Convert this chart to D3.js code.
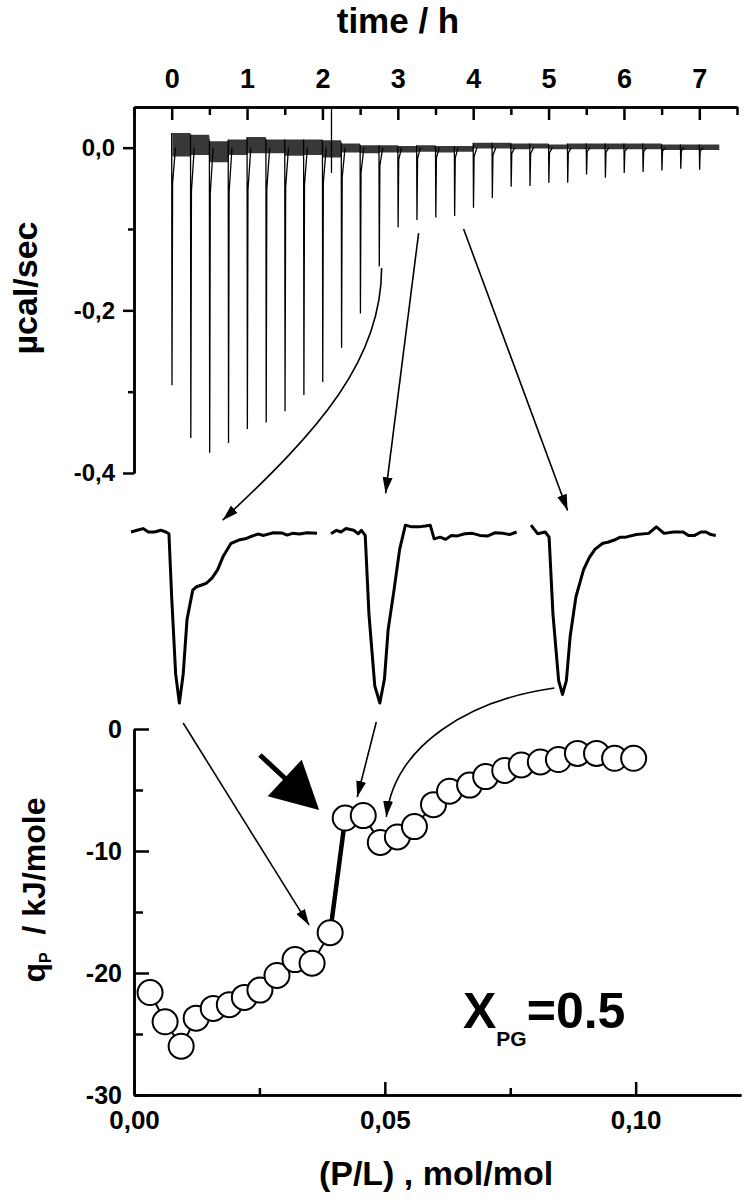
<!DOCTYPE html>
<html>
<head>
<meta charset="utf-8">
<script src="https://cdn.jsdelivr.net/npm/d3@7"></script>
<style>
  body { margin: 0; background: #fff; }
  svg { display: block; font-family: "Liberation Sans", Arial, Helvetica, sans-serif; font-weight: bold; }
</style>
</head>
<body>
<svg id="chart" width="744" height="1200"></svg>
<script>
// ITC thermogram: injection times (h) and peak minima (µcal/sec)
const injTime = [0, 0.25, 0.5, 0.75, 1, 1.25, 1.5, 1.75, 2, 2.25, 2.5, 2.75, 3, 3.25, 3.5,
  3.75, 4, 4.25, 4.5, 4.75, 5, 5.25, 5.5, 5.75, 6, 6.25, 6.5, 6.75, 7];
const injPeak = [-0.292, -0.357, -0.375, -0.363, -0.346, -0.338, -0.324, -0.304, -0.288, -0.246,
  -0.204, -0.146, -0.098, -0.089, -0.086, -0.084, -0.074, -0.062, -0.048, -0.047, -0.043, -0.043,
  -0.033, -0.037, -0.031, -0.030, -0.028, -0.026, -0.027];
// baseline noise envelope between injections (µcal/sec)
const noiseHi = [0.018, 0.016, 0.008, 0.010, 0.013, 0.010, 0.010, 0.010, 0.009, 0.005, 0.003, 0.003,
  0.002, 0.003, 0.002, 0.002, 0.006, 0.006, 0.005, 0.005, 0.004, 0.005, 0.005, 0.005, 0.005, 0.005,
  0.004, 0.004, 0.004];
const noiseLo = [-0.011, -0.009, -0.018, -0.009, -0.007, -0.007, -0.010, -0.009, -0.012, -0.006,
  -0.007, -0.006, -0.006, -0.005, -0.006, -0.005, -0.001, -0.001, -0.002, -0.001, -0.002, -0.002,
  -0.002, -0.002, -0.002, -0.002, -0.003, -0.003, -0.003];
const traceEnd = 7.27;
const glitch = { t: 2.12, hi: 0.05, lo: -0.031 };

const timeTicks = [0, 1, 2, 3, 4, 5, 6, 7];
const timeMinor = [-0.5, 0.5, 1.5, 2.5, 3.5, 4.5, 5.5, 6.5, 7.5];
const powerTicks = [0, -0.2, -0.4];
const powerMinor = [-0.1, -0.3];

// enlarged single peaks: [minutes after start of window, signal relative to peak depth]
const insetInj = [12, 14, 16];
const insetA = [[0, 0], [0.5, 0.01], [0.97, 0.02], [1.4, 0.0], [1.9, 0.0], [2.4, 0.01], [2.82, 0],
  [3.06, -0.01], [3.28, -0.38], [3.6, -0.83], [3.9, -1.0], [4.21, -0.83], [4.52, -0.51],
  [4.98, -0.34], [5.29, -0.32], [5.7, -0.31], [6.06, -0.30], [6.53, -0.27], [6.99, -0.22],
  [7.45, -0.14], [8.07, -0.066], [8.69, -0.047], [9.2, -0.04], [9.62, -0.028], [10.24, -0.012],
  [10.7, -0.02], [11.48, -0.004], [12.2, -0.006], [12.6, -0.018], [13.01, -0.008], [13.6, -0.012],
  [14.2, -0.004], [15.0, -0.008]];
const insetB = [[0, -0.01], [0.44, 0.01], [0.8, 0.0], [1.21, 0.02], [1.83, 0.01], [2.2, -0.01],
  [2.45, 0.01], [2.76, -0.02], [3.06, -0.48], [3.53, -0.9], [3.94, -1.0], [4.31, -0.86],
  [4.61, -0.57], [5.08, -0.34], [5.54, -0.1], [6.0, 0.04], [6.5, 0.03], [7.09, 0.03], [7.6, 0.035],
  [8.0, 0.04], [8.32, -0.04], [8.8, -0.03], [9.25, -0.043], [9.7, -0.02], [10.18, -0.023],
  [10.8, -0.01], [11.41, -0.008], [12.0, -0.02], [12.65, -0.023], [13.2, -0.005],
  [13.88, -0.008], [14.4, -0.015], [14.97, 0.0]];
const insetC = [[0, 0.04], [0.53, -0.01], [1.15, 0.0], [1.46, -0.03], [1.77, -0.48],
  [2.23, -0.87], [2.54, -0.95], [2.85, -0.87], [3.16, -0.61], [3.62, -0.38], [4.24, -0.22],
  [4.7, -0.15], [5.17, -0.1], [5.79, -0.066], [6.2, -0.06], [6.72, -0.047], [7.2, -0.03],
  [7.64, -0.03], [8.5, -0.015], [9.49, -0.008], [10.11, 0.03], [10.73, -0.008], [11.5, 0.0],
  [12.27, 0.0], [12.7, -0.02], [13.2, -0.02], [13.7, 0.0], [14.12, 0.0], [14.5, -0.015],
  [14.9, -0.02]];

// titration heats
const plRatio = [0.0032, 0.0062, 0.0094, 0.0124, 0.0158, 0.0190, 0.0220, 0.0251, 0.0285, 0.0321,
  0.0355, 0.0391, 0.0421, 0.0457, 0.0491, 0.0525, 0.0559, 0.0597, 0.0629, 0.0669, 0.0701, 0.0739,
  0.0772, 0.0810, 0.0846, 0.0884, 0.0922, 0.0958, 0.0996];
const qP = [-21.6, -24.0, -26.0, -23.7, -22.9, -22.6, -22.0, -21.4, -20.2, -18.9, -19.2, -16.7,
  -7.3, -7.1, -9.3, -8.85, -8.0, -6.2, -5.1, -4.6, -3.9, -3.4, -2.95, -2.7, -2.5, -2.0, -2.0, -2.4, -2.4];
const jumpAt = 11; // segment drawn heavy: point 12 -> 13

const ratioTicks = [0, 0.05, 0.10];
const ratioMinor = [0.025, 0.075];
const heatTicks = [0, -10, -20, -30];
const heatMinor = [-5, -15, -25];

// arrows (in the coordinates of the panel they sit in)
const topArrows = [
  { from: [2.785, -0.148], c1: [2.785, -0.261], c2: [1.963, -0.347], to: [0.676, -0.458] },
  { from: [3.276, -0.105], to: [2.838, -0.425] },
  { from: [3.873, -0.100], to: [5.252, -0.446] }
];
const bottomArrows = [
  { from: [0.0098, 0.49], to: [0.0349, -16.07] },
  { from: [0.0483, 0.57], to: [0.0445, -5.57] },
  { from: [0.0838, 3.36], c1: [0.0669, 2.38], c2: [0.0519, -1.31], to: [0.0503, -7.21] }
];
const bigArrow = { from: [0.0251, -2.13], to: [0.0369, -6.64] };

const loc = d3.formatLocale({ decimal: ",", thousands: ".", grouping: [3], currency: ["", ""], minus: "-" });

const svg = d3.select("#chart");
const defs = svg.append("defs");
defs.append("marker")
    .attr("id", "head")
    .attr("viewBox", "0 0 16 10")
    .attr("refX", 16).attr("refY", 5)
    .attr("markerWidth", 16).attr("markerHeight", 10)
    .attr("markerUnits", "userSpaceOnUse")
    .attr("orient", "auto")
  .append("path")
    .attr("d", "M0,0L16,5L0,10z")
    .attr("fill", "#000");

function styleAxis(g, size) {
  g.attr("font-family", null).attr("font-size", null);
  g.selectAll("path.domain, line").attr("stroke", "#000").attr("stroke-width", 2.5);
  g.selectAll("text").attr("fill", "#000").style("font-size", size + "px");
}

// ---------- top panel: raw heat flow ----------
const x = d3.scaleLinear().domain([-0.5, 7.5]).range([134, 737]);
const y = d3.scaleLinear().domain([-0.4, 0.05]).range([473, 107]);

svg.append("g")
    .attr("transform", `translate(0,${y(0.05)})`)
    .call(d3.axisTop(x).tickValues(timeMinor).tickSize(-8).tickSizeOuter(0).tickFormat(""))
    .call(g => styleAxis(g, 27));
svg.append("g")
    .attr("transform", `translate(0,${y(0.05)})`)
    .call(d3.axisTop(x).tickValues(timeTicks).tickSize(-13).tickSizeOuter(0).tickPadding(19).tickFormat(d3.format("d")))
    .call(g => styleAxis(g, 27));

svg.append("g")
    .attr("transform", `translate(${x(-0.5)},0)`)
    .call(d3.axisLeft(y).tickValues(powerMinor).tickSize(6).tickSizeOuter(0).tickFormat(""))
    .call(g => styleAxis(g, 24));
svg.append("g")
    .attr("transform", `translate(${x(-0.5)},0)`)
    .call(d3.axisLeft(y).tickValues(powerTicks).tickSize(11).tickSizeOuter(0).tickPadding(8).tickFormat(loc.format(".1f")))
    .call(g => styleAxis(g, 24));

svg.append("text")
    .attr("x", 398).attr("y", 33)
    .attr("text-anchor", "middle")
    .style("font-size", "35px")
    .text("time / h");

svg.append("text")
    .attr("transform", "translate(37,288) rotate(-90)")
    .attr("text-anchor", "middle")
    .style("font-size", "34px")
    .text("µcal/sec");

// baseline noise band
const bandPts = injTime.flatMap((t, i) => {
  const t1 = i < injTime.length - 1 ? injTime[i + 1] : traceEnd;
  return [{ t: t + 0.01, hi: noiseHi[i], lo: noiseLo[i] }, { t: t1 - 0.005, hi: noiseHi[i], lo: noiseLo[i] }];
});
svg.append("path")
    .datum(bandPts)
    .attr("d", d3.area().x(d => x(d.t)).y0(d => y(d.lo)).y1(d => y(d.hi)))
    .attr("fill", "#000")
    .attr("fill-opacity", 0.78);

// injection spikes
svg.append("g")
  .selectAll("path")
  .data(injTime.map((t, i) => ({ t, p: injPeak[i], hi: noiseHi[i] })))
  .join("path")
    .attr("d", d => d3.line()([
      [x(d.t), y(d.hi)], [x(d.t + 0.004), y(d.p)], [x(d.t + 0.012), y(d.p * 0.15)], [x(d.t + 0.05), y(0)]
    ]))
    .attr("fill", "none")
    .attr("stroke", "#000")
    .attr("stroke-width", 1.3);

svg.append("line")
    .attr("x1", x(glitch.t)).attr("x2", x(glitch.t))
    .attr("y1", y(glitch.hi)).attr("y2", y(glitch.lo))
    .attr("stroke", "#000").attr("stroke-width", 1.3);

// ---------- enlarged peaks ----------
const ix = d3.scaleLinear().domain([0, 15]).range([0, 186]);
const iPos = d3.scalePoint().domain(insetInj).range([131, 531]);
const iy = d3.scaleLinear().domain([-1, 0]).range([703, 532]);
const insetLine = d3.line().x(d => ix(d[0])).y(d => iy(d[1]));

svg.append("g")
  .selectAll("path")
  .data([insetA, insetB, insetC])
  .join("path")
    .attr("transform", (d, i) => `translate(${iPos(insetInj[i])},0)`)
    .attr("d", insetLine)
    .attr("fill", "none")
    .attr("stroke", "#000")
    .attr("stroke-width", 3)
    .attr("stroke-linejoin", "round");

// ---------- bottom panel: heats ----------
const px = d3.scaleLinear().domain([0, 0.121]).range([134, 741]);
const py = d3.scaleLinear().domain([-30, 0]).range([1095, 729]);

svg.append("g")
    .attr("transform", `translate(${px(0)},0)`)
    .call(d3.axisLeft(py).tickValues(heatMinor).tickSize(-9).tickSizeOuter(0).tickFormat(""))
    .call(g => styleAxis(g, 25));
svg.append("g")
    .attr("transform", `translate(${px(0)},0)`)
    .call(d3.axisLeft(py).tickValues(heatTicks).tickSize(-15).tickSizeOuter(0).tickPadding(12).tickFormat(loc.format("d")))
    .call(g => styleAxis(g, 25));

svg.append("g")
    .attr("transform", `translate(0,${py(-30)})`)
    .call(d3.axisBottom(px).tickValues(ratioMinor).tickSize(-7).tickSizeOuter(0).tickFormat(""))
    .call(g => styleAxis(g, 26));
svg.append("g")
    .attr("transform", `translate(0,${py(-30)})`)
    .call(d3.axisBottom(px).tickValues(ratioTicks).tickSize(-13).tickSizeOuter(0).tickPadding(16).tickFormat(loc.format(".2f")))
    .call(g => styleAxis(g, 26));

svg.append("text")
    .attr("x", 436).attr("y", 1185)
    .attr("text-anchor", "middle")
    .style("font-size", "34px")
    .text("(P/L) , mol/mol");

const qLabel = svg.append("text")
    .attr("transform", "translate(45,890) rotate(-90)")
    .attr("text-anchor", "middle")
    .style("font-size", "32px");
qLabel.append("tspan").text("q");
qLabel.append("tspan").attr("dy", 6).style("font-size", "16px").text("P");
qLabel.append("tspan").attr("dy", -6).text("\u00a0\u00a0/ kJ/mole");

const xpg = svg.append("text")
    .attr("x", 463).attr("y", 1028)
    .style("font-size", "50px");
xpg.append("tspan").text("X");
xpg.append("tspan").attr("dy", 18).style("font-size", "21px").text("PG");
xpg.append("tspan").attr("dy", -18).text("=0.5");

// connecting line, heavy jump segment, circles
const pts = plRatio.map((v, i) => [v, qP[i]]);
const heatLine = d3.line().x(d => px(d[0])).y(d => py(d[1]));
svg.append("path")
    .datum(pts)
    .attr("d", heatLine)
    .attr("fill", "none").attr("stroke", "#000").attr("stroke-width", 2);
svg.append("path")
    .datum(pts.slice(jumpAt, jumpAt + 2))
    .attr("d", heatLine)
    .attr("fill", "none").attr("stroke", "#000").attr("stroke-width", 4.5);
svg.append("g")
  .selectAll("circle")
  .data(pts)
  .join("circle")
    .attr("cx", d => px(d[0]))
    .attr("cy", d => py(d[1]))
    .attr("r", 12.5)
    .attr("fill", "#fff")
    .attr("stroke", "#000")
    .attr("stroke-width", 2);

// ---------- arrows ----------
function arrowPath(a, sx, sy) {
  const p = v => `${sx(v[0])},${sy(v[1])}`;
  return a.c1 ? `M${p(a.from)}C${p(a.c1)} ${p(a.c2)} ${p(a.to)}` : `M${p(a.from)}L${p(a.to)}`;
}
svg.append("g")
  .selectAll("path")
  .data(topArrows)
  .join("path")
    .attr("d", d => arrowPath(d, x, y))
    .attr("fill", "none").attr("stroke", "#000").attr("stroke-width", 1.6)
    .attr("marker-end", "url(#head)");
svg.append("g")
  .selectAll("path")
  .data(bottomArrows)
  .join("path")
    .attr("d", d => arrowPath(d, px, py))
    .attr("fill", "none").attr("stroke", "#000").attr("stroke-width", 1.6)
    .attr("marker-end", "url(#head)");

// big filled arrow
{
  const tx = px(bigArrow.from[0]), ty = py(bigArrow.from[1]);
  const hx = px(bigArrow.to[0]), hy = py(bigArrow.to[1]);
  const len = Math.hypot(hx - tx, hy - ty), ux = (hx - tx) / len, uy = (hy - ty) / len;
  const headL = 47, headW = 25;
  const bx = hx - ux * headL, by = hy - uy * headL;
  svg.append("line")
      .attr("x1", tx).attr("y1", ty).attr("x2", bx + ux * 4).attr("y2", by + uy * 4)
      .attr("stroke", "#000").attr("stroke-width", 5);
  svg.append("path")
      .attr("d", `M${hx},${hy}L${bx - uy * headW},${by + ux * headW}L${bx + uy * headW},${by - ux * headW}Z`)
      .attr("fill", "#000");
}
</script>
</body>
</html>
